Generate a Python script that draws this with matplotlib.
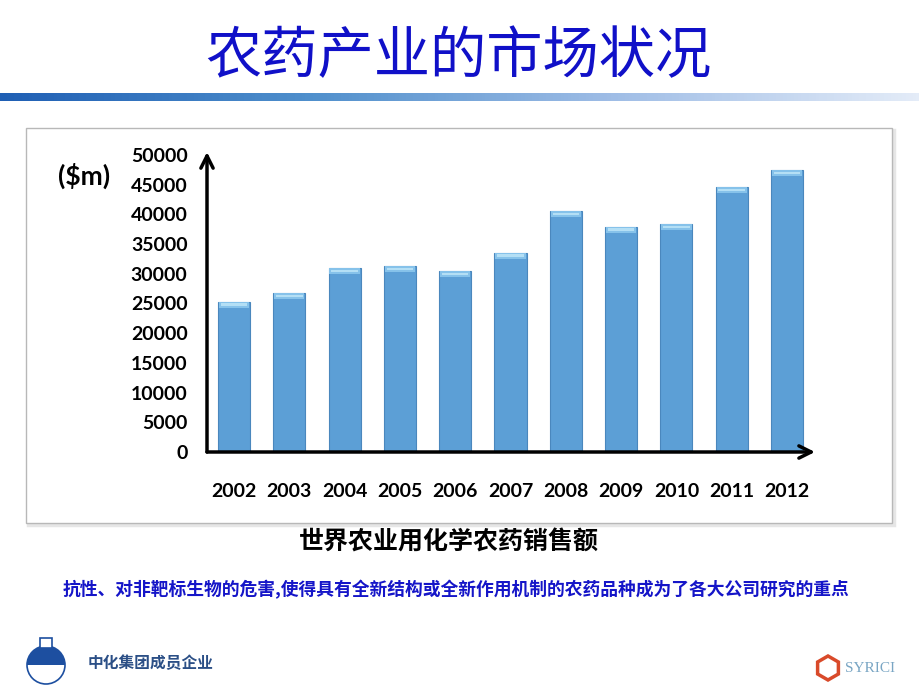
import numpy as np
import matplotlib.pyplot as plt
from matplotlib.patches import Rectangle, Circle, Wedge, RegularPolygon
from matplotlib.colors import LinearSegmentedColormap

plt.rcParams['font.family'] = ['Noto Sans CJK SC', 'DejaVu Sans']

# =========================
# DATI
# =========================
years = ['2002', '2003', '2004', '2005', '2006', '2007',
         '2008', '2009', '2010', '2011', '2012']
sales = [25300, 26800, 30900, 31350, 30500, 33550,
         40570, 37930, 38380, 44560, 47470]
yticks = [0, 5000, 10000, 15000, 20000, 25000,
          30000, 35000, 40000, 45000, 50000]

title = "农药产业的市场状况"
subtitle = "世界农业用化学农药销售额"
note = "抗性、对非靶标生物的危害,使得具有全新结构或全新作用机制的农药品种成为了各大公司研究的重点"
unit_label = "($m)"
company = "中化集团成员企业"
brand = "SYRICI"

W, H = 920, 690
fig = plt.figure(figsize=(W / 100, H / 100), dpi=100)
fig.patch.set_facecolor('white')

# --- layer di sfondo in pixel ---
bg = fig.add_axes([0, 0, 1, 1])
bg.set_xlim(0, W)
bg.set_ylim(H, 0)
bg.axis('off')

# titolo
bg.text(458, 57, title, ha='center', va='center', fontsize=40.5,
        color='#1010c8')

# barra sfumata sotto il titolo
grad = np.linspace(0, 1, 256).reshape(1, -1)
cmap = LinearSegmentedColormap.from_list(
    'bar', ['#1f5fb4', '#4f8fcc', '#9fbde6', '#e4ecf8'])
bg.imshow(grad, cmap=cmap, extent=[0, W, 101, 93], aspect='auto', zorder=1)

# cornice del grafico
bg.add_patch(Rectangle((28, 130), 866, 395, facecolor='none',
                       edgecolor='#e6e6e6', lw=2.5, zorder=1))
bg.add_patch(Rectangle((26, 128), 866, 395, facecolor='white',
                       edgecolor='#b8b8b8', lw=1, zorder=2))

bg.text(84, 176, unit_label, ha='center', va='center', fontsize=19,
        fontweight='bold', family=['Lato', 'DejaVu Sans'], zorder=3)

# sottotitolo e nota
bg.text(449, 542, subtitle, ha='center', va='center', fontsize=18,
        fontweight='bold', color='black')
bg.text(456, 590, note, ha='center', va='center', fontsize=12.8,
        fontweight='bold', color='#1515c8')

# logo in basso a sinistra
bg.add_patch(Wedge((46, 665), 19, 180, 360, facecolor='#1d4fa0',
                   edgecolor='none', zorder=3))
bg.add_patch(Circle((46, 665), 19, facecolor='none', edgecolor='#1d4fa0',
                    lw=1.2, zorder=4))
bg.add_patch(Rectangle((40, 638), 12, 10, facecolor='white',
                       edgecolor='#1d4fa0', lw=1.2, zorder=4))
bg.text(88, 663, company, ha='left', va='center', fontsize=11.3,
        fontweight='bold', color='#2b4f86')

# logo in basso a destra
bg.add_patch(RegularPolygon((828, 668), 6, radius=12, orientation=0,
                            facecolor='white', edgecolor='#d94a2a',
                            lw=2.5, zorder=3))
bg.text(845, 668, brand, ha='left', va='center', fontsize=11,
        family=['Liberation Serif', 'DejaVu Serif'], color='#7aa6c4')

# =========================
# GRAFICO A BARRE
# =========================
ax = fig.add_axes([207 / W, 1 - 452 / H, 608 / W, 297 / H])
ax.patch.set_alpha(0)
x = np.arange(len(years))
vals = np.array(sales)
ax.bar(x, vals, width=0.58, color='#5c9fd6', edgecolor='#4a87bd',
       lw=0.8, zorder=2)
cap = 1000
ax.bar(x, np.full(len(x), cap), bottom=vals - cap, width=0.55,
       color='#86c2ea', edgecolor='none', zorder=3)
ax.bar(x, np.full(len(x), cap * 0.35), bottom=vals - cap * 0.65, width=0.48,
       color='#b4dff5', edgecolor='none', zorder=4)

ax.set_xlim(-0.488, 10.506)
ax.set_ylim(0, 50000)
ax.set_yticks(yticks)
ax.set_yticklabels([str(v) for v in yticks])
ax.set_xticks(x)
ax.set_xticklabels(years)
for lab in ax.get_xticklabels() + ax.get_yticklabels():
    lab.set_family(['Lato', 'DejaVu Sans'])
    lab.set_fontweight('bold')
    lab.set_fontsize(14)
ax.tick_params(axis='y', length=0, pad=14)
ax.tick_params(axis='x', length=0, pad=22)
for s in ax.spines.values():
    s.set_visible(False)

# assi con frecce
ax.annotate('', xy=(0, 1.01), xytext=(0, 0), xycoords='axes fraction',
            arrowprops=dict(arrowstyle='->', lw=2.5, color='black',
                            mutation_scale=22, shrinkA=0, shrinkB=0))
ax.annotate('', xy=(1.0, 0), xytext=(0, 0), xycoords='axes fraction',
            arrowprops=dict(arrowstyle='->', lw=2.5, color='black',
                            mutation_scale=22, shrinkA=0, shrinkB=0))

fig.savefig('out.png', dpi=100)
